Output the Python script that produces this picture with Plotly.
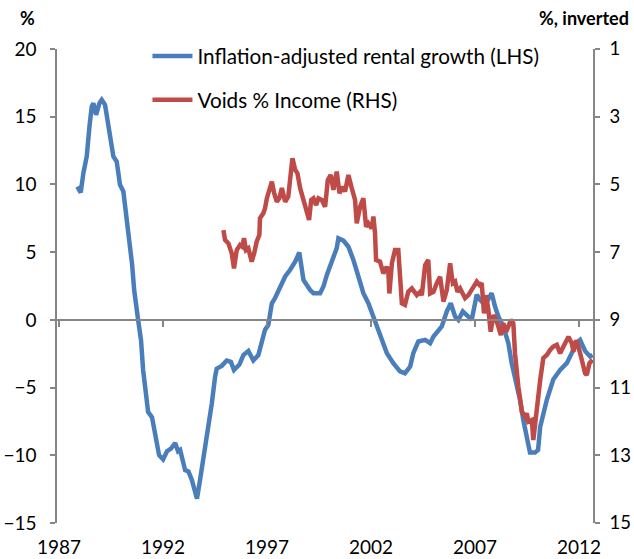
import plotly.graph_objects as go

# ---- data ----
rent_years = [1987.88, 1988.04, 1988.17, 1988.33, 1988.46, 1988.57, 1988.65, 1988.78, 1988.94, 1989.05,
              1989.21, 1989.37, 1989.45, 1989.61, 1989.77, 1989.93, 1990.09, 1990.25, 1990.41, 1990.51,
              1990.61, 1990.70, 1990.80, 1990.94, 1991.04, 1991.18, 1991.28, 1991.47, 1991.62, 1991.81,
              1992.00, 1992.19, 1992.38, 1992.58, 1992.72, 1992.82, 1993.06, 1993.22, 1993.38, 1993.54,
              1993.63, 1993.78, 1994.02, 1994.18, 1994.34, 1994.50, 1994.58, 1994.82, 1995.06, 1995.26,
              1995.41, 1995.67, 1995.86, 1996.10, 1996.34, 1996.58, 1996.75, 1996.90, 1997.06, 1997.23,
              1997.38, 1997.63, 1997.87, 1998.11, 1998.35, 1998.55, 1998.75, 1999.07, 1999.23, 1999.55,
              1999.71, 1999.87, 2000.11, 2000.35, 2000.43, 2000.67, 2000.91, 2001.15, 2001.39, 2001.63,
              2001.87, 2002.11, 2002.43, 2002.76, 2003.07, 2003.39, 2003.63, 2003.88, 2004.03, 2004.27,
              2004.60, 2004.84, 2005.00, 2005.24, 2005.40, 2005.64, 2005.83, 2006.04, 2006.20, 2006.41,
              2006.63, 2006.84, 2007.08, 2007.24, 2007.48, 2007.80, 2007.96, 2008.12, 2008.36, 2008.60,
              2008.76, 2008.92, 2009.16, 2009.32, 2009.49, 2009.64, 2009.88, 2010.03, 2010.13, 2010.45,
              2010.76, 2011.09, 2011.41, 2011.65, 2011.89, 2012.05, 2012.29, 2012.53, 2012.65]
rent_growth = [9.84, 9.40, 10.86, 12.06, 14.28, 15.75, 16.0, 15.14, 16.0, 16.25,
               15.88, 14.28, 13.29, 12.06, 11.69, 9.97, 9.48, 7.63, 5.41, 4.1,
               2.2, 0.9, 0.0, -1.5, -3.7, -5.5, -6.8, -7.2, -8.6, -10.0,
               -10.3, -9.7, -9.5, -9.1, -9.7, -9.6, -11.1, -11.2, -11.8, -12.6,
               -13.2, -11.8, -9.4, -8.1, -6.2, -4.2, -3.6, -3.4, -3.0, -3.1,
               -3.7, -3.3, -2.6, -2.3, -3.0, -2.6, -1.5, -0.74, -0.37, 1.23,
               1.6, 2.34, 3.2, 3.7, 4.3, 4.97, 2.95, 2.2, 1.97, 1.97,
               2.46, 3.3, 4.4, 5.3, 6.03, 5.86, 5.4, 4.43, 3.2, 1.97,
               1.23, 0.25, -1.23, -2.46, -3.2, -3.8, -3.94, -3.45, -2.46, -1.6,
               -1.48, -1.72, -1.23, -0.74, -0.49, 0.62, 1.23, 0.25, 0.0, 0.62,
               0.25, 0.0, 1.85, 1.48, 1.1, 1.97, 0.98, 0.25, -0.49, -1.72,
               -3.2, -4.3, -5.9, -7.4, -8.6, -9.8, -9.8, -9.6, -7.9, -5.9,
               -4.4, -3.7, -3.2, -2.5, -1.7, -1.48, -2.3, -2.7, -2.6]

voids_years = [1994.90, 1994.98, 1995.14, 1995.30, 1995.41, 1995.54, 1995.70, 1995.81, 1995.89, 1995.99,
               1996.10, 1996.26, 1996.38, 1996.50, 1996.63, 1996.66, 1996.82, 1996.90, 1996.99, 1997.11,
               1997.23, 1997.34, 1997.47, 1997.59, 1997.71, 1997.87, 1998.02, 1998.14, 1998.22, 1998.35,
               1998.46, 1998.59, 1998.75, 1998.91, 1999.02, 1999.12, 1999.23, 1999.36, 1999.47, 1999.63,
               1999.79, 1999.92, 2000.06, 2000.19, 2000.35, 2000.48, 2000.64, 2000.75, 2000.91, 2001.07,
               2001.23, 2001.31, 2001.47, 2001.63, 2001.76, 2001.87, 2002.03, 2002.11, 2002.19, 2002.24,
               2002.43, 2002.59, 2002.75, 2002.83, 2002.88, 2003.00, 2003.15, 2003.31, 2003.39, 2003.48,
               2003.63, 2003.79, 2003.96, 2004.20, 2004.36, 2004.44, 2004.60, 2004.75, 2004.84, 2005.00,
               2005.16, 2005.32, 2005.48, 2005.64, 2005.80, 2005.93, 2006.04, 2006.15, 2006.28, 2006.52,
               2006.68, 2006.89, 2007.08, 2007.21, 2007.32, 2007.43, 2007.53, 2007.64, 2007.75, 2007.88,
               2008.01, 2008.12, 2008.24, 2008.36, 2008.49, 2008.60, 2008.72, 2008.84, 2008.92, 2009.08,
               2009.25, 2009.40, 2009.49, 2009.56, 2009.73, 2009.80, 2009.97, 2010.13, 2010.28, 2010.45,
               2010.61, 2010.76, 2010.93, 2011.09, 2011.25, 2011.41, 2011.49, 2011.65, 2011.73, 2011.86,
               2011.97, 2012.13, 2012.29, 2012.37, 2012.50, 2012.65]
voids_pct = [6.35, 6.64, 6.74, 7.03, 7.48, 6.94, 6.79, 6.84, 6.59, 6.94,
             6.89, 7.28, 7.03, 6.69, 6.49, 6.0, 5.85, 5.71, 5.41, 5.21,
             4.92, 5.26, 5.51, 5.41, 5.11, 5.51, 5.36, 4.67, 4.23, 4.57,
             4.67, 5.11, 5.46, 5.71, 6.05, 5.46, 5.41, 5.61, 5.41, 5.46,
             5.66, 4.87, 4.72, 5.16, 4.62, 5.26, 5.07, 5.21, 4.72, 5.11,
             5.46, 6.15, 5.66, 5.41, 6.25, 6.15, 6.3, 5.95, 6.44, 7.23,
             7.28, 7.63, 7.43, 7.58, 8.22, 7.33, 6.94, 6.94, 7.82, 8.51,
             8.56, 8.17, 8.07, 8.27, 8.17, 8.27, 7.38, 7.23, 8.22, 8.17,
             7.92, 7.73, 8.46, 8.12, 7.33, 7.92, 7.87, 8.17, 8.07, 8.36,
             8.27, 8.07, 7.87, 7.97, 7.92, 8.81, 8.27, 8.71, 9.35, 8.86,
             9.0, 9.2, 9.45, 9.1, 9.35, 9.2, 9.0, 9.1, 9.99, 10.97,
             11.71, 11.86, 11.76, 12.01, 11.96, 12.55, 11.46, 10.78, 10.13, 10.04,
             9.89, 9.79, 9.74, 9.99, 9.79, 9.6, 9.5, 9.69, 9.94, 9.6,
             9.79, 10.18, 10.58, 10.63, 10.28, 10.18]

year_ticks = [1987, 1992, 1997, 2002, 2007, 2012]
year_labels = ["1987", "1992", "1997", "2002", "2007", "2012"]
left_ticks = [20, 15, 10, 5, 0, -5, -10, -15]
right_ticks = [1, 3, 5, 7, 9, 11, 13, 15]

FONT = "Lato"
AXIS_GREY = "#868686"
X_RANGE = [1986.9, 2012.67]
Y_RANGE = [-15, 20]

fig = go.Figure()
fig.add_trace(go.Scatter(
    x=rent_years, y=rent_growth, mode="lines",
    name="Inflation-adjusted rental growth (LHS)",
    line=dict(color="#4A7EBB", width=4.5),
    legendgroup="a",
))
fig.add_trace(go.Scatter(
    x=voids_years, y=voids_pct, mode="lines",
    name="Voids % Income (RHS)",
    line=dict(color="#BE4B48", width=4.5),
    yaxis="y2", legendgroup="b",
))
# invisible helper trace so the zero-line category axis is drawn
fig.add_trace(go.Scatter(
    x=rent_years[:1], y=rent_growth[:1], xaxis="x2", mode="markers",
    marker=dict(opacity=0), showlegend=False, hoverinfo="skip",
))

zero_pos = (0 - Y_RANGE[0]) / (Y_RANGE[1] - Y_RANGE[0])

fig.update_layout(
    template="none",
    width=634, height=559,
    margin=dict(l=57, r=41, t=49, b=36, autoexpand=False),
    paper_bgcolor="white", plot_bgcolor="white",
    font=dict(family=FONT, size=19, color="#000000"),
    showlegend=True,
    legend=dict(
        xref="container", yref="container",
        x=0.2326, y=0.9356, xanchor="left", yanchor="top",
        bgcolor="rgba(0,0,0,0)", font=dict(size=20.7, family=FONT),
        traceorder="grouped", tracegroupgap=14, itemwidth=40,
    ),
    xaxis=dict(
        range=X_RANGE, tickvals=year_ticks, ticktext=year_labels,
        showline=False, ticks="", showgrid=False, zeroline=False,
        ticklabelstandoff=11, tickfont=dict(size=19), automargin=False,
    ),
    xaxis2=dict(
        range=X_RANGE, overlaying="x", anchor="free", position=zero_pos,
        tickvals=year_ticks, showticklabels=False,
        showline=True, linecolor=AXIS_GREY, linewidth=1.5,
        ticks="outside", ticklen=6, tickcolor=AXIS_GREY, tickwidth=1.5,
        showgrid=False, zeroline=False, automargin=False,
    ),
    yaxis=dict(
        range=Y_RANGE, tickvals=left_ticks,
        showline=True, linecolor=AXIS_GREY, linewidth=1.5,
        ticks="outside", ticklen=5, tickcolor=AXIS_GREY, tickwidth=1.5,
        showgrid=False, zeroline=False, ticklabelstandoff=10,
        tickfont=dict(size=19), automargin=False,
    ),
    yaxis2=dict(
        range=[15, 1], tickvals=right_ticks, overlaying="y", side="right",
        showline=True, linecolor=AXIS_GREY, linewidth=1.5,
        ticks="outside", ticklen=5, tickcolor=AXIS_GREY, tickwidth=1.5,
        showgrid=False, zeroline=False, ticklabelstandoff=6,
        tickfont=dict(size=18.5), automargin=False,
    ),
    annotations=[
        dict(text="<b>%</b>", xref="paper", yref="paper", x=-0.055, y=1.0654,
             xanchor="center", yanchor="middle", showarrow=False,
             font=dict(size=18, family=FONT)),
        dict(text="<b>%, inverted</b>", xref="paper", yref="paper", x=1.0710, y=1.0654,
             xanchor="right", yanchor="middle", showarrow=False,
             font=dict(size=18, family=FONT)),
    ],
)

fig.write_html(
    "out.html",
    config={"displayModeBar": False},
    post_script="document.body.style.margin='0px';document.body.style.padding='0px';",
)
